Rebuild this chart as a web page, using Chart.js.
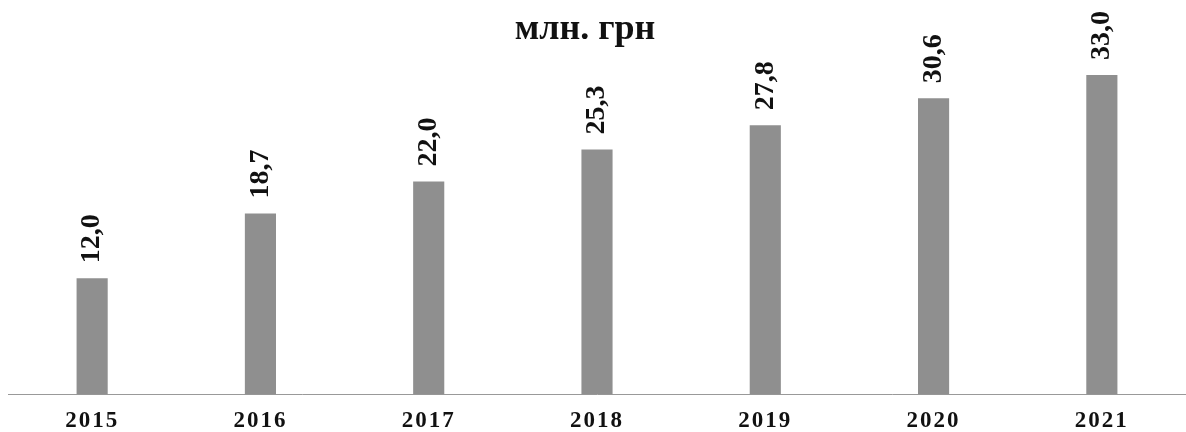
<!DOCTYPE html>
<html>
<head>
<meta charset="utf-8">
<script src="https://cdn.jsdelivr.net/npm/chart.js@4.4.1/dist/chart.umd.min.js"></script>
<style>
  html, body { margin: 0; padding: 0; background: #fff; }
  #wrap { width: 1186px; height: 432px; }
</style>
</head>
<body>
<div id="wrap"><canvas id="myChart"></canvas></div>
<script>
const years = ['2015', '2016', '2017', '2018', '2019', '2020', '2021'];
const values = [12.0, 18.7, 22.0, 25.3, 27.8, 30.6, 33.0];
const titleText = 'млн. грн';

const serif = '"Liberation Serif", "Times New Roman", serif';

// title line (the line above it is cut off in the scan)
const titleLine = {
    id: 'titleLine',
    afterDraw(chart) {
        const ctx = chart.ctx;
        ctx.save();
        ctx.letterSpacing = '0px';
        ctx.font = 'bold 36px ' + serif;
        ctx.fillStyle = '#111';
        ctx.textAlign = 'center';
        ctx.textBaseline = 'alphabetic';
        ctx.fillText(titleText, 585, 39);
        ctx.restore();
    }
};

// value labels, rotated, above each bar
const valueLabels = {
    id: 'valueLabels',
    afterDatasetsDraw(chart) {
        const ctx = chart.ctx;
        const meta = chart.getDatasetMeta(0);
        ctx.save();
        ctx.letterSpacing = '0px';
        ctx.font = 'bold 28px ' + serif;
        ctx.fillStyle = '#111';
        ctx.textAlign = 'left';
        ctx.textBaseline = 'middle';
        meta.data.forEach((bar, i) => {
            const txt = values[i].toFixed(1).replace('.', ',');
            ctx.save();
            ctx.translate(bar.x, bar.y - 15);
            ctx.rotate(-Math.PI / 2);
            ctx.fillText(txt, 0, 0);
            ctx.restore();
        });
        ctx.restore();
    }
};

// spaced-out year labels like the print
const spacing = {
    id: 'spacing',
    beforeDraw(chart) { chart.ctx.letterSpacing = '2px'; },
    afterDraw(chart) { chart.ctx.letterSpacing = '0px'; }
};

const ctx = document.getElementById('myChart').getContext('2d');
new Chart(ctx, {
    type: 'bar',
    data: {
        labels: years,
        datasets: [{
            data: values,
            backgroundColor: '#8f8f8f',
            borderWidth: 0,
            categoryPercentage: 1,
            barPercentage: 0.185
        }]
    },
    options: {
        responsive: true,
        maintainAspectRatio: false,
        animation: false,
        layout: { padding: { left: 8, right: 0, top: 44, bottom: -16 } },
        plugins: {
            legend: { display: false },
            tooltip: { enabled: false },
            title: { display: false }
        },
        scales: {
            x: {
                grid: { display: false, drawTicks: false },
                border: { display: true, color: '#999', width: 1, dash: [1, 2] },
                ticks: {
                    color: '#111',
                    padding: 13,
                    font: { family: serif, size: 23, weight: 'bold', lineHeight: 1.2 }
                }
            },
            y: {
                display: false,
                min: 0,
                max: 36.2
            }
        }
    },
    plugins: [spacing, valueLabels, titleLine]
});
</script>
</body>
</html>
